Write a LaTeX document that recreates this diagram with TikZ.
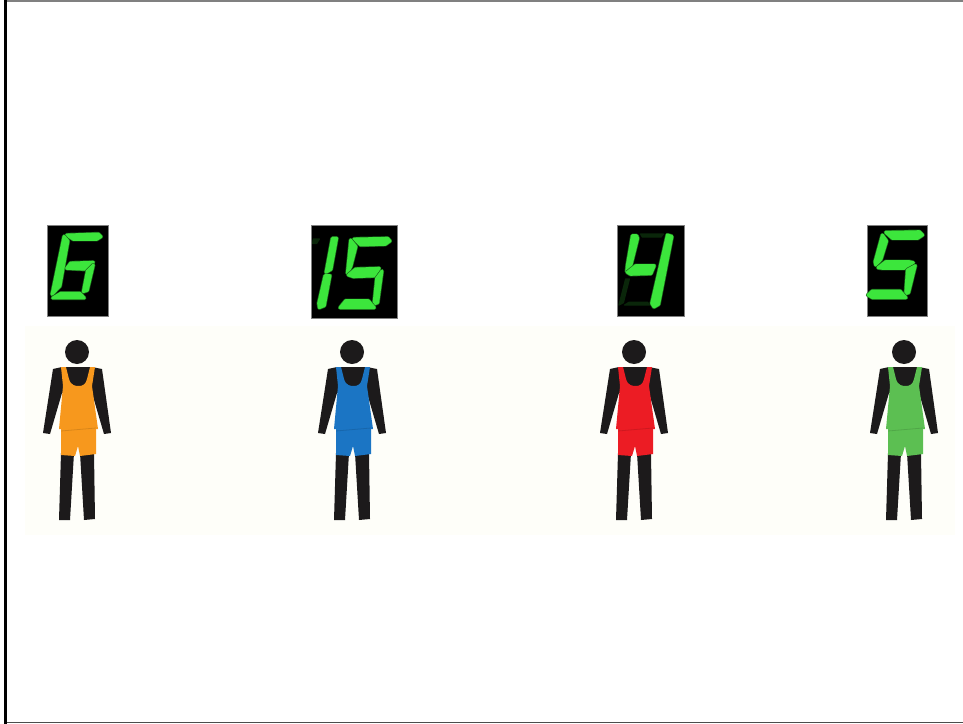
\documentclass[tikz,border=0pt]{standalone}
\usepackage{xcolor}
\usepackage{tikz}
\definecolor{kitorange}{HTML}{F7981D}
\definecolor{kitblue}{HTML}{1B75C4}
\definecolor{kitred}{HTML}{EC1C24}
\definecolor{kitgreen}{HTML}{5CBF52}
\definecolor{figblack}{HTML}{1C1A1B}
\definecolor{segon}{HTML}{3CE63C}
\definecolor{segoff}{HTML}{0A260A}
\definecolor{floorcol}{HTML}{FEFEF9}
\tikzset{
  segment/.style={fill=segon, draw=segon, line width=2.2pt, line join=round,
    preaction={draw=segon!45!black, line width=3.2pt, line join=round}},
  ghost/.style={fill=segoff, draw=segoff, line width=1pt, line join=round},
  display/.style={fill=black, draw=gray, line width=0.4pt},
  runner/.pic={
    % head
    \fill[figblack] (0,0) circle (12);
    % arms and chest
    \fill[figblack] (-15,15) -- (15,15) -- (25,17) -- (34,81) -- (27,82) -- (15,41) -- (-15,41) -- (-27,82) -- (-34,81) -- (-24,17) -- cycle;
    % legs
    \fill[figblack] (-16,101) -- (-3,101) -- (-7,168) -- (-18,168) -- cycle;
    \fill[figblack] (3,101) -- (17,101) -- (18,167) -- (7,168) -- cycle;
    % shorts
    \fill[pic actions] (-16,76) -- (19,76) -- (19,102) -- (3,104) -- (1,94) -- (-2,104) -- (-16,103) -- cycle;
    % singlet
    \fill[pic actions] (-16,15) -- (-11,15) -- (-8,27) .. controls (-6,34) and (-1,34) .. (2,34) .. controls (6,34) and (9,32) .. (10,27) -- (13,15) -- (18,15) -- (15,34) -- (21,77) -- (-18,77) -- (-14,34) -- cycle;
    \draw[black, opacity=0.12, line width=0.6pt] (-16,79) -- (19,76);
  }
}

\begin{document}
\begin{tikzpicture}[x=0.75pt, y=-0.75pt]
  \useasboundingbox (0,0) rectangle (963,724);
  % ---- Frame and floor ----
  \fill[white] (0,0) rectangle (963,724);
  \fill[floorcol] (25,326) rectangle (955,535);
  \draw[gray, line width=0.9pt] (5,1) -- (963,1);
  \draw[black!70, line width=1pt] (5,722.5) -- (963,722.5);
  \draw[black, line width=2pt] (5.3,0) -- (5.3,724);

  % ---- Displays ----
  \fill[display] (47,225) rectangle (108,316);
  \fill[display] (311,225) rectangle (397,318);
  \fill[display] (617,225) rectangle (684,316);
  \fill[display] (867,225) rectangle (927,316);

  % ---- Digit 6 ----
  \begin{scope}[shift={(30,215)}, scale=1/3]
    \fill[segment] (110,60) -- (205,57) -- (213,65) -- (200,73) -- (130,73) -- cycle;
    \fill[segment] (102,64) -- (114,78) -- (90,213) -- (66,238) -- cycle;
    \fill[segment] (110,160) -- (122,144) -- (190,142) -- (170,163) -- cycle;
    \fill[segment] (190,150) -- (172,226) -- (160,230) -- (172,168) -- cycle;
    \fill[segment] (68,249) -- (92,235) -- (150,235) -- (163,249) -- cycle;
  \end{scope}

  % ---- Digit 15 ----
  \begin{scope}[shift={(300,215)}, scale=1/3]
    \fill[ghost] (40,72) -- (58,72) -- (50,85) -- (38,85) -- cycle;
    \fill[segment] (97,70) -- (110,70) -- (93,163) -- (78,172) -- cycle;
    \fill[segment] (75,182) -- (90,182) -- (73,272) -- (58,278) -- (56,265) -- cycle;
    \fill[segment] (162,72) -- (263,70) -- (270,78) -- (256,88) -- (182,90) -- cycle;
    \fill[segment] (152,75) -- (168,95) -- (153,153) -- (142,175) -- cycle;
    \fill[segment] (145,180) -- (167,162) -- (238,160) -- (223,183) -- (160,185) -- cycle;
    \fill[segment] (246,168) -- (233,263) -- (222,267) -- (230,190) -- cycle;
    \fill[segment] (120,278) -- (137,257) -- (205,257) -- (223,278) -- cycle;
  \end{scope}

  % ---- Digit 4 ----
  \begin{scope}[shift={(600,215)}, scale=1/3]
    \fill[ghost] (122,57) -- (190,57) -- (183,66) -- (127,66) -- cycle;
    \fill[ghost] (77,192) -- (88,192) -- (70,263) -- (57,270) -- cycle;
    \fill[ghost] (74,270) -- (87,262) -- (143,262) -- (148,270) -- cycle;
    \fill[segment] (97,62) -- (110,62) -- (113,70) -- (93,150) -- (80,170) -- (82,150) -- cycle;
    \fill[segment] (82,172) -- (107,152) -- (163,152) -- (153,176) -- (92,178) -- cycle;
    \fill[segment] (202,60) -- (216,64) -- (176,268) -- (162,276) -- (155,265) -- cycle;
  \end{scope}

  % ---- Digit 5 ----
  \begin{scope}[shift={(850,215)}, scale=1/3]
    \fill[segment] (107,52) -- (208,50) -- (218,60) -- (203,70) -- (127,70) -- cycle;
    \fill[segment] (97,60) -- (110,78) -- (93,133) -- (77,150) -- (75,140) -- cycle;
    \fill[segment] (84,158) -- (107,140) -- (178,140) -- (190,143) -- (163,160) -- (97,160) -- cycle;
    \fill[segment] (196,152) -- (176,233) -- (167,236) -- (172,165) -- cycle;
    \fill[segment] (54,240) -- (67,228) -- (150,228) -- (168,248) -- (67,248) -- cycle;
  \end{scope}

  % ---- Figures ----
  \pic[fill=kitorange] at (77,352) {runner};
  \pic[fill=kitblue] at (352,352) {runner};
  \pic[fill=kitred] at (634,352) {runner};
  \pic[fill=kitgreen] at (904,352) {runner};
\end{tikzpicture}
\end{document}
